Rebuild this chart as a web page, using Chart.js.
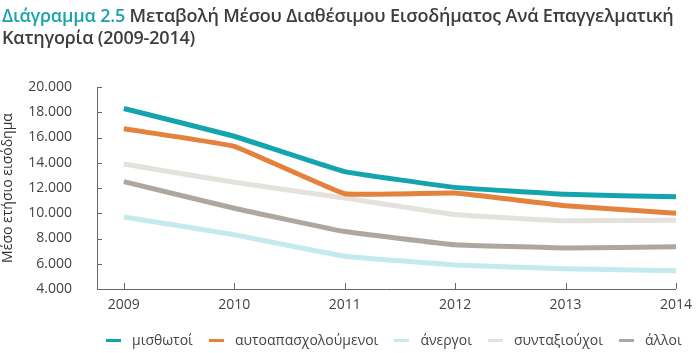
<!DOCTYPE html>
<html>
<head>
<meta charset="utf-8">
<script src="https://cdn.jsdelivr.net/npm/chart.js@4.4.1/dist/chart.umd.min.js"></script>
<style>
  html, body { margin: 0; padding: 0; background: #fff; }
  #wrap { position: relative; width: 700px; height: 353px; }
  #title {
    position: absolute; left: 2px; top: 4px; width: 698px;
    font-family: "Open Sans", sans-serif; font-weight: 600; font-size: 18px;
    line-height: 22px; color: #3d3d3d; letter-spacing: -0.2px;
  }
  #title span { color: #1aa3ad; }
  canvas { position: absolute; left: 0; top: 0; }
  #legend {
    position: absolute; left: 106px; top: 330px; display: flex; align-items: center;
    font-family: "Open Sans", sans-serif; font-size: 14px; color: #444; line-height: 20px;
  }
  #legend .item { display: flex; align-items: center; margin-right: 16px; }
  #legend .mark { width: 15px; height: 3px; margin-right: 11px; }
</style>
</head>
<body>
<div id="wrap">
  <canvas id="chart" width="700" height="353"></canvas>
  <div id="title"><span>Διάγραμμα 2.5</span> Μεταβολή Μέσου Διαθέσιμου Εισοδήματος Ανά Επαγγελματική Κατηγορία (2009-2014)</div>
  <div id="legend"></div>
</div>
<script>
// έτη
const years = [2009, 2010, 2011, 2012, 2013, 2014];

// μέσο ετήσιο εισόδημα ανά κατηγορία
const misthotoi = [18300, 16100, 13300, 12050, 11500, 11300];
const aftoapasxoloumenoi = [16700, 15300, 11550, 11600, 10600, 10000];
const anergoi = [9700, 8300, 6600, 5900, 5600, 5450];
const syntaxiouxoi = [13900, 12450, 11200, 9900, 9400, 9450];
const alloi = [12500, 10400, 8550, 7500, 7250, 7350];

const yTicks = [4000, 6000, 8000, 10000, 12000, 14000, 16000, 18000, 20000];

const axisColor = '#666';

const toPoints = vals => vals.map((v, i) => ({ x: years[i], y: v }));

const mkSet = (label, vals, color) => ({
    label: label,
    data: toPoints(vals),
    borderColor: color,
    backgroundColor: color,
    borderWidth: 5,
    pointRadius: 0,
    tension: 0.08,
    borderJoinStyle: 'round',
    borderCapStyle: 'butt'
});

// μικρές γραμμές ticks προς τα μέσα
const innerTicks = {
    id: 'innerTicks',
    afterDraw(chart) {
        const ctx = chart.ctx;
        const xs = chart.scales.x, ys = chart.scales.y;
        ctx.save();
        ctx.strokeStyle = axisColor;
        ctx.lineWidth = 1;
        ctx.beginPath();
        yTicks.forEach(v => {
            const py = Math.round(ys.getPixelForValue(v)) + 0.5;
            ctx.moveTo(xs.left, py);
            ctx.lineTo(xs.left + 5, py);
        });
        years.forEach(v => {
            const px = Math.round(xs.getPixelForValue(v)) + 0.5;
            ctx.moveTo(px, ys.bottom);
            ctx.lineTo(px, ys.bottom - 6);
        });
        ctx.stroke();
        ctx.restore();
    }
};

const ctx = document.getElementById('chart').getContext('2d');
const chart = new Chart(ctx, {
    type: 'line',
    data: {
        datasets: [
            mkSet('μισθωτοί', misthotoi, '#14a4ae'),
            mkSet('αυτοαπασχολούμενοι', aftoapasxoloumenoi, '#e3813d'),
            mkSet('άνεργοι', anergoi, '#c4eaee'),
            mkSet('συνταξιούχοι', syntaxiouxoi, '#e5e1dd'),
            mkSet('άλλοι', alloi, '#aea79f')
        ]
    },
    plugins: [innerTicks],
    options: {
        responsive: false,
        animation: false,
        layout: { padding: { top: 87, right: 20, left: 0, bottom: 36 } },
        plugins: {
            legend: { display: false },
            tooltip: { enabled: false }
        },
        scales: {
            x: {
                type: 'linear',
                min: 2008.757,
                max: 2014,
                afterBuildTicks: s => { s.ticks = years.map(v => ({ value: v })); },
                afterFit: s => { s.height = 28; },
                grid: { display: false, drawTicks: false },
                border: { display: true, color: axisColor, width: 1 },
                ticks: {
                    padding: 8,
                    color: '#444',
                    font: { family: 'Open Sans', size: 14 },
                    maxRotation: 0,
                    callback: v => String(v)
                }
            },
            y: {
                min: 4000,
                max: 20000,
                afterBuildTicks: s => { s.ticks = yTicks.map(v => ({ value: v })); },
                afterFit: s => { s.width = 97; },
                grid: { display: false, drawTicks: false },
                border: { display: true, color: axisColor, width: 1 },
                title: {
                    display: true,
                    text: 'Μέσο ετήσιο εισόδημα',
                    color: '#333',
                    font: { family: 'Open Sans', size: 14 },
                    padding: 0
                },
                ticks: {
                    padding: 25,
                    color: '#444',
                    font: { family: 'Open Sans', size: 14 },
                    callback: v => v.toLocaleString('de-DE', { minimumFractionDigits: 3 }).replace(',000', '')
                }
            }
        }
    }
});

// υπόμνημα σε html από τα datasets
const legend = document.getElementById('legend');
chart.data.datasets.forEach(ds => {
    const item = document.createElement('div');
    item.className = 'item';
    const mark = document.createElement('div');
    mark.className = 'mark';
    mark.style.background = ds.borderColor;
    const txt = document.createElement('span');
    txt.textContent = ds.label;
    item.appendChild(mark);
    item.appendChild(txt);
    legend.appendChild(item);
});
</script>
</body>
</html>
